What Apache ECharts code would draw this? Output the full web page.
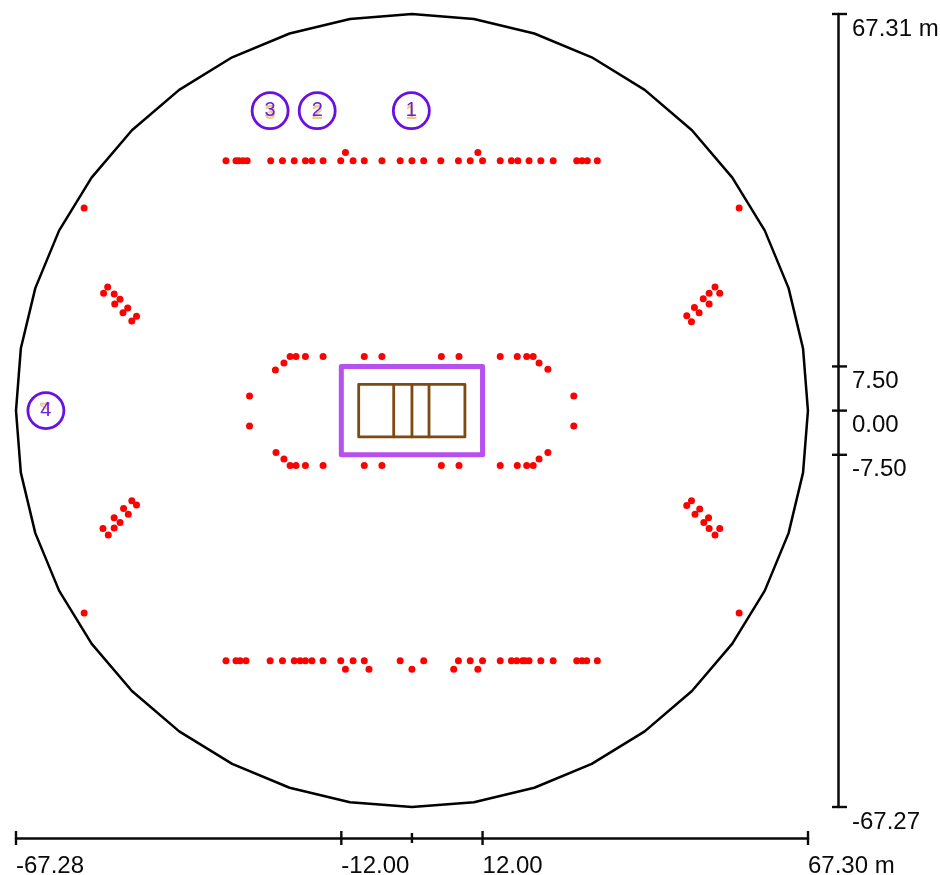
<!DOCTYPE html>
<html>
<head>
<meta charset="utf-8">
<style>html,body{margin:0;padding:0;background:#fff}#chart{width:940px;height:875px}</style>
<script src="https://cdn.jsdelivr.net/npm/echarts@6/dist/echarts.min.js"></script>
</head>
<body>
<div id="chart"></div>
<script>
// Axis extents and ticks (metres)
const xMin = -67.28, xMax = 67.30, yMin = -67.27, yMax = 67.31;
const xLabelValues = [-67.28, -12, 12, 67.30];
const xLabelTexts = ['-67.28', '-12.00', '12.00', '67.30 m'];
const xMinorTicks = [0];
const yLabelValues = [67.31, 7.5, 0, -7.5, -67.27];
const yLabelTexts = ['67.31 m', '7.50', '0.00', '-7.50', '-67.27'];

// Outer boundary polygon
const boundary = [
 [67.29,0],[66.46,10.53],[64.00,20.79],[59.96,30.55],[54.44,39.55],[47.58,47.58],[39.55,54.44],[30.55,59.96],[20.79,64.00],[10.53,66.46],
 [0,67.29],[-10.53,66.46],[-20.79,64.00],[-30.55,59.96],[-39.55,54.44],[-47.58,47.58],[-54.44,39.55],[-59.96,30.55],[-64.00,20.79],[-66.46,10.53],
 [-67.28,0],[-66.46,-10.53],[-64.00,-20.79],[-59.96,-30.55],[-54.44,-39.55],[-47.58,-47.58],[-39.55,-54.44],[-30.55,-59.96],[-20.79,-64.00],[-10.53,-66.46],
 [0,-67.27],[10.53,-66.46],[20.79,-64.00],[30.55,-59.96],[39.55,-54.44],[47.58,-47.58],[54.44,-39.55],[59.96,-30.55],[64.00,-20.79],[66.46,-10.53],
 [67.29,0]
];
// Free zone and court
const freeZone = [[-12,7.5],[12,7.5],[12,-7.5],[-12,-7.5],[-12,7.5]];
const court = [[-9.05,4.47],[9.0,4.47],[9.0,-4.47],[-9.05,-4.47],[-9.05,4.47]];
const courtLines = [
 [[-3.1,4.47],[-3.1,-4.47]],
 [[0,4.47],[0,-4.47]],
 [[2.9,4.47],[2.9,-4.47]]
];

// Red points, rows of x at shared y
const topRowY = 42.4;
const topRowX = [-31.6,-29.9,-29.4,-28.7,-28.0,-24.0,-22.0,-20.0,-18.1,-17.0,-15.1,-12.1,-10.0,-8.1,-5.1,-2.0,0,2.0,4.9,7.9,9.9,12.0,15.0,16.9,18.0,19.9,21.9,24.0,28.0,28.9,29.8,31.5];
const topRaised = [[-11.3,43.8],[11.2,43.8]];
const bottomRowY = -42.45;
const bottomRowX = [-31.6,-29.9,-29.2,-28.2,-24.1,-22.0,-20.0,-19.0,-18.1,-17.0,-15.1,-12.1,-10.0,-8.1,-2.0,2.0,7.9,9.9,12.0,15.0,16.9,17.8,18.8,19.2,19.9,21.9,24.0,28.0,28.9,29.7,31.5];
const bottomLowered = [[-11.3,-43.9],[-7.3,-43.9],[0,-43.9],[7.1,-43.9],[11.2,-43.9]];
const innerTopY = 9.2;
const innerTopX = [-20.7,-19.7,-18.1,-15.1,-8.1,-5.1,5.0,8.0,15.0,17.9,19.5,20.6];
const innerBottomY = -9.3;
const innerBottomX = [-20.7,-19.7,-18.1,-15.1,-8.1,-5.1,5.0,8.0,15.0,17.9,19.5,20.6];
const innerArcs = [
 [-21.75,8.1],[-23.2,6.9],[-27.6,2.5],[-27.6,-2.6],[-23.1,-7.1],[-21.75,-8.2],
 [21.6,8.1],[23.1,7.0],[27.5,2.5],[27.5,-2.6],[23.1,-7.1],[21.6,-8.2]
];
const clusterNW = [[-51.7,21.0],[-52.4,19.9],[-50.6,19.8],[-49.6,18.9],[-50.5,18.1],[-48.3,17.4],[-49.1,16.6],[-46.8,16.0],[-47.6,15.2]];
const clusterSW = [[-47.6,-15.3],[-46.8,-16.0],[-49.0,-16.6],[-48.2,-17.6],[-50.6,-18.2],[-49.6,-19.0],[-50.6,-19.9],[-52.5,-20.0],[-51.6,-21.1]];
const clusterNE = [[51.5,21.0],[52.3,19.9],[50.5,19.9],[49.5,19.0],[50.5,18.1],[48.0,17.5],[48.8,16.6],[46.7,16.1],[47.5,15.1]];
const clusterSE = [[47.5,-15.3],[46.7,-16.1],[48.9,-16.7],[48.1,-17.6],[50.4,-18.2],[49.6,-19.0],[50.5,-20.0],[52.3,-20.0],[51.5,-21.1]];
const cornerPoints = [[-55.7,34.4],[55.6,34.4],[-55.7,-34.35],[55.6,-34.35]];

// Numbered circles
const markerNames = ['1','2','3','4'];
const markerX = [-0.1,-16.1,-24.1,-62.2];
const markerY = [50.9,50.9,50.9,0];

const rowPts = (xs, y) => xs.map(x => [x, y]);
const redPoints = [].concat(
  rowPts(topRowX, topRowY), topRaised,
  rowPts(bottomRowX, bottomRowY), bottomLowered,
  rowPts(innerTopX, innerTopY), rowPts(innerBottomX, innerBottomY), innerArcs,
  clusterNW, clusterSW, clusterNE, clusterSE, cornerPoints
);
const INK = '#0a0a0a';
const FONT = '"Liberation Sans", Arial, sans-serif';
const lineSeries = (data, color, width, z) => ({
  type: 'line', data, showSymbol: false, symbol: 'none', silent: true, clip: false, z,
  lineStyle: { color, width, join: 'round', cap: 'round' }, animation: false
});
const tickSeries = (data, render) => ({
  type: 'custom', data, silent: true, z: 6, animation: false, renderItem: render
});
const xTick = (up, down) => (p, api) => {
  const c = api.coord([api.value(0), yMin]);
  return { type: 'line', shape: { x1: c[0], y1: c[1] + 31 - up, x2: c[0], y2: c[1] + 31 + down },
           style: { stroke: INK, lineWidth: 2.4 } };
};
const yTick = (p, api) => {
  const c = api.coord([xMax, api.value(1)]);
  return { type: 'line', shape: { x1: c[0] + 24, y1: c[1], x2: c[0] + 39, y2: c[1] },
           style: { stroke: INK, lineWidth: 2.4 } };
};

const chart = echarts.init(document.getElementById('chart'), null, { renderer: 'canvas' });
chart.setOption({
  animation: false,
  backgroundColor: '#ffffff',
  grid: { left: 16, top: 14, width: 792, height: 793, containLabel: false, outerBoundsMode: 'none' },
  tooltip: { show: false },
  xAxis: {
    type: 'value', min: xMin, max: xMax, position: 'bottom', offset: 31, scale: true,
    splitLine: { show: false },
    axisLine: { show: true, onZero: false, lineStyle: { color: INK, width: 2.5 } },
    axisTick: { show: false },
    axisLabel: {
      show: true, customValues: xLabelValues, margin: 16, align: 'left', verticalAlign: 'top',
      color: INK, fontSize: 24, fontFamily: FONT, hideOverlap: false,
      showMinLabel: true, showMaxLabel: true,
      formatter: v => xLabelTexts[xLabelValues.indexOf(v)]
    }
  },
  yAxis: {
    type: 'value', min: yMin, max: yMax, position: 'right', offset: 30, scale: true,
    splitLine: { show: false },
    axisLine: { show: true, onZero: false, lineStyle: { color: INK, width: 2.5 } },
    axisTick: { show: false },
    axisLabel: {
      show: true, customValues: yLabelValues, margin: 14, align: 'left', verticalAlign: 'top',
      color: INK, fontSize: 24, lineHeight: 30, fontFamily: FONT, hideOverlap: false,
      showMinLabel: true, showMaxLabel: true,
      formatter: v => yLabelTexts[yLabelValues.indexOf(v)]
    }
  },
  series: [
    lineSeries(boundary, '#000000', 2.5, 2),
    lineSeries(freeZone, '#B84FEF', 5, 3),
    lineSeries(court, '#7F4A10', 2.8, 4),
    lineSeries(courtLines[0], '#7F4A10', 2.8, 4),
    lineSeries(courtLines[1], '#7F4A10', 2.8, 4),
    lineSeries(courtLines[2], '#7F4A10', 2.8, 4),
    {
      type: 'scatter', data: redPoints, symbol: 'circle', symbolSize: 7, silent: true, z: 5, clip: false,
      itemStyle: { color: '#FF0000', opacity: 1 }
    },
    tickSeries(xLabelValues.map(v => [v, yMin]), xTick(7, 7)),
    tickSeries(xMinorTicks.map(v => [v, yMin]), xTick(5, 5)),
    tickSeries(yLabelValues.map(v => [xMax, v]), yTick),
    {
      type: 'scatter', silent: true, z: 7, clip: false, symbol: 'circle', symbolSize: 1,
      itemStyle: { color: 'rgba(0,0,0,0)', opacity: 1 },
      data: markerNames.map((n, i) => ({
        value: [markerX[i], markerY[i]], name: n,
        label: n === '4'
          ? { show: true, formatter: n, position: 'inside', offset: [5, 0], rotate: 90, fontSize: 15, fontWeight: 'bold', color: '#EFC98F', fontFamily: FONT }
          : { show: true, formatter: n, position: 'inside', offset: [0, 3], fontSize: 20, fontWeight: 'bold', color: '#EFC98F', fontFamily: FONT }
      }))
    },
    {
      type: 'scatter', silent: true, z: 8, clip: false, symbol: 'circle', symbolSize: 36,
      itemStyle: { color: 'rgba(255,255,255,0)', borderColor: '#6A10E0', borderWidth: 2.8, opacity: 1 },
      label: { show: true, position: 'inside', formatter: p => p.name, fontSize: 20, color: '#6A22D8', fontFamily: FONT },
      data: markerNames.map((n, i) => ({ value: [markerX[i], markerY[i]], name: n }))
    }
  ]
});
</script>
</body>
</html>
